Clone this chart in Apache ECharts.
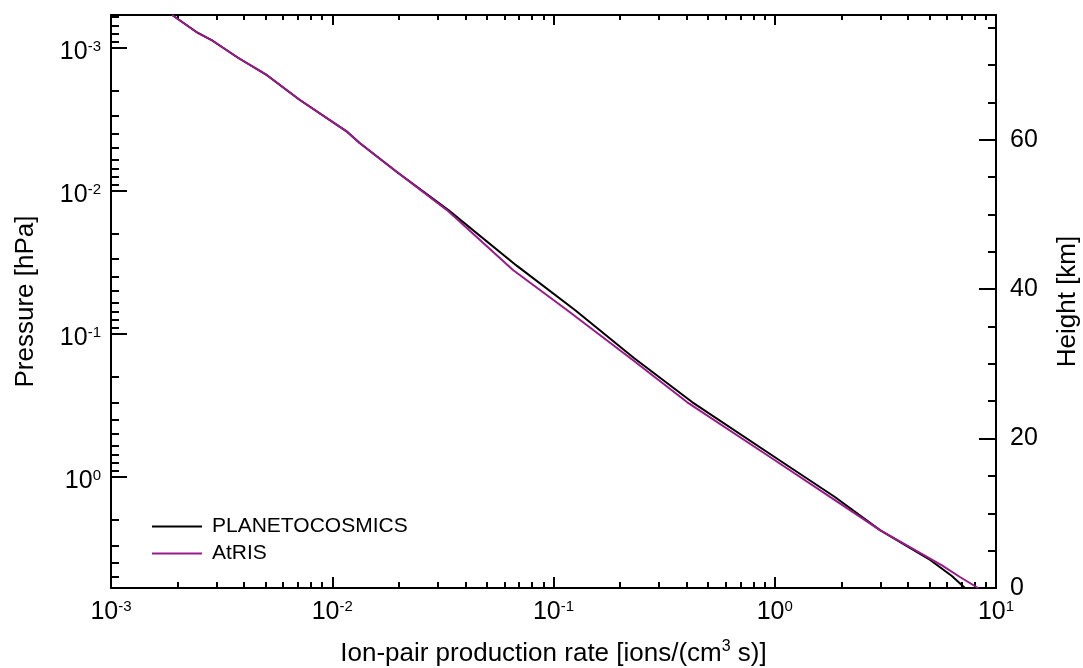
<!DOCTYPE html>
<html>
<head>
<meta charset="utf-8">
<script src="https://cdn.jsdelivr.net/npm/echarts@6/dist/echarts.min.js"></script>
<style>
html, body { margin: 0; padding: 0; background: #fff; }
#chart { width: 1083px; height: 668px; }
</style>
</head>
<body>
<div id="chart"></div>
<script>
// ion-pair production rate [ions/(cm^3 s)] vs pressure [hPa]
const planetoRate = [1.89e-3, 2.47e-3, 2.89e-3, 3.75e-3, 5.07e-3, 7.14e-3, 0.0117, 0.0133, 0.0196, 0.0335, 0.0684, 0.125, 0.231, 0.423, 1.03, 1.87, 2.99, 5.04, 6.32, 7.24]
const planetoPressure = [5.88e-4, 7.85e-4, 8.93e-4, 1.17e-3, 1.55e-3, 2.31e-3, 3.86e-3, 4.62e-3, 7.36e-3, 0.0136, 0.0334, 0.0679, 0.147, 0.299, 0.748, 1.38, 2.35, 3.80, 4.92, 5.97]

const atrisRate = [1.89e-3, 2.47e-3, 2.89e-3, 3.75e-3, 5.07e-3, 7.14e-3, 0.0117, 0.0133, 0.0196, 0.0330, 0.0656, 0.115, 0.222, 0.401, 0.982, 1.87, 2.99, 5.70, 6.87, 8.30]
const atrisPressure = [5.88e-4, 7.85e-4, 8.93e-4, 1.17e-3, 1.55e-3, 2.31e-3, 3.86e-3, 4.62e-3, 7.36e-3, 0.0136, 0.0357, 0.0679, 0.147, 0.299, 0.748, 1.45, 2.35, 4.15, 5.0, 5.97]

const rateMajorTicks = [0.001, 0.01, 0.1, 1, 10]
const pressureMajorTicks = [0.001, 0.01, 0.1, 1]
const heightMajorTicks = [0, 20, 40, 60]
const heightMinorTicks = [5, 10, 15, 25, 30, 35, 45, 50, 55, 65, 70, 75]

const rateRange = [0.001, 10]
const pressureRange = [5.877e-4, 5.97]
const heightRange = [0, 76.7]

// log minor ticks 2..9 in each decade
const logMinors = (lo, hi) => {
  const out = []
  for (let e = -4; e <= 1; e++) {
    for (let m = 2; m <= 9; m++) {
      const v = m * Math.pow(10, e)
      if (v > lo && v < hi) out.push(+v.toPrecision(3))
    }
  }
  return out
}
const rateMinorTicks = logMinors(rateRange[0], rateRange[1])
const pressureMinorTicks = logMinors(pressureRange[0], pressureRange[1])

const font = 'Liberation Sans, Arial, Helvetica, sans-serif'
const black = '#000000'
const purple = '#9a1a8c'

const powLabel = v => '{b|10}{s|' + Math.round(Math.log10(v)) + '}'
const powRich = {
  b: { fontSize: 25, fontFamily: font, color: black, lineHeight: 27 },
  s: { fontSize: 15, fontFamily: font, color: black, lineHeight: 15, verticalAlign: 'top' }
}

const axisLine = { show: true, onZero: false, lineStyle: { color: black, width: 2 } }
const noLine = { show: false, onZero: false }

const tickAxis = (base, ticks, len, extra) => Object.assign({
  axisLine: noLine,
  axisTick: { show: true, inside: true, length: len, customValues: ticks, lineStyle: { color: black, width: 2 } },
  axisLabel: { show: false },
  splitLine: { show: false },
  minorTick: { show: false },
  silent: true
}, base, extra || {})

const rateBase = { type: 'log', logBase: 10, min: rateRange[0], max: rateRange[1], gridIndex: 0 }
const presBase = { type: 'log', logBase: 10, min: pressureRange[0], max: pressureRange[1], inverse: true, gridIndex: 0 }
const heightBase = { type: 'value', min: heightRange[0], max: heightRange[1], gridIndex: 0 }

const chart = echarts.init(document.getElementById('chart'))

chart.setOption({
  animation: false,
  backgroundColor: '#ffffff',
  grid: { left: 111, right: 87, top: 15, bottom: 80, containLabel: false, outerBoundsMode: 'none' },
  legend: {
    orient: 'vertical',
    left: 147,
    top: 511,
    icon: 'rect',
    itemWidth: 50,
    itemHeight: 2,
    itemGap: 6,
    data: ['PLANETOCOSMICS', 'AtRIS'],
    textStyle: { fontSize: 21, lineHeight: 21, fontFamily: font, color: black, padding: [0, 0, 0, 5] }
  },
  xAxis: [
    tickAxis(rateBase, rateMajorTicks, 11, {
      position: 'bottom',
      axisLine: axisLine,
      axisLabel: { show: true, customValues: rateMajorTicks, margin: 11, formatter: powLabel, rich: powRich },
      name: '{t|Ion-pair production rate [ions/(cm}{s|3}{t| s)]}',
      nameLocation: 'middle',
      nameGap: 51,
      nameTextStyle: {
        rich: {
          t: { fontSize: 26, fontFamily: font, color: black, lineHeight: 30 },
          s: { fontSize: 16, fontFamily: font, color: black, lineHeight: 16, verticalAlign: 'top' }
        }
      }
    }),
    tickAxis(rateBase, rateMinorTicks, 6, { position: 'bottom' }),
    tickAxis(rateBase, rateMajorTicks, 10, { position: 'top', axisLine: axisLine }),
    tickAxis(rateBase, rateMinorTicks, 5, { position: 'top' })
  ],
  yAxis: [
    tickAxis(presBase, pressureMajorTicks, 16, {
      position: 'left',
      axisLine: axisLine,
      axisLabel: { show: true, customValues: pressureMajorTicks, margin: 10, padding: [9, 0, 0, 0], formatter: powLabel, rich: powRich },
      name: 'Pressure [hPa]',
      nameLocation: 'middle',
      nameRotate: 90,
      nameGap: 72,
      nameTextStyle: { fontSize: 26, fontFamily: font, color: black }
    }),
    tickAxis(presBase, pressureMinorTicks, 8, { position: 'left' }),
    tickAxis(heightBase, heightMajorTicks, 17, {
      position: 'right',
      axisLine: axisLine,
      axisLabel: { show: true, customValues: heightMajorTicks, margin: 14, fontSize: 25, fontFamily: font, color: black },
      name: 'Height [km]',
      nameLocation: 'middle',
      nameRotate: 90,
      nameGap: 59,
      nameTextStyle: { fontSize: 26, fontFamily: font, color: black }
    }),
    tickAxis(heightBase, heightMinorTicks, 8, { position: 'right' })
  ],
  series: [
    {
      name: 'PLANETOCOSMICS',
      type: 'line',
      xAxisIndex: 0,
      yAxisIndex: 0,
      symbol: 'none',
      clip: true,
      lineStyle: { color: black, width: 2 },
      itemStyle: { color: black },
      data: planetoRate.map((r, i) => [r, planetoPressure[i]])
    },
    {
      name: 'AtRIS',
      type: 'line',
      xAxisIndex: 0,
      yAxisIndex: 0,
      symbol: 'none',
      clip: true,
      lineStyle: { color: purple, width: 2 },
      itemStyle: { color: purple },
      data: atrisRate.map((r, i) => [r, atrisPressure[i]])
    }
  ]
})
</script>
</body>
</html>
